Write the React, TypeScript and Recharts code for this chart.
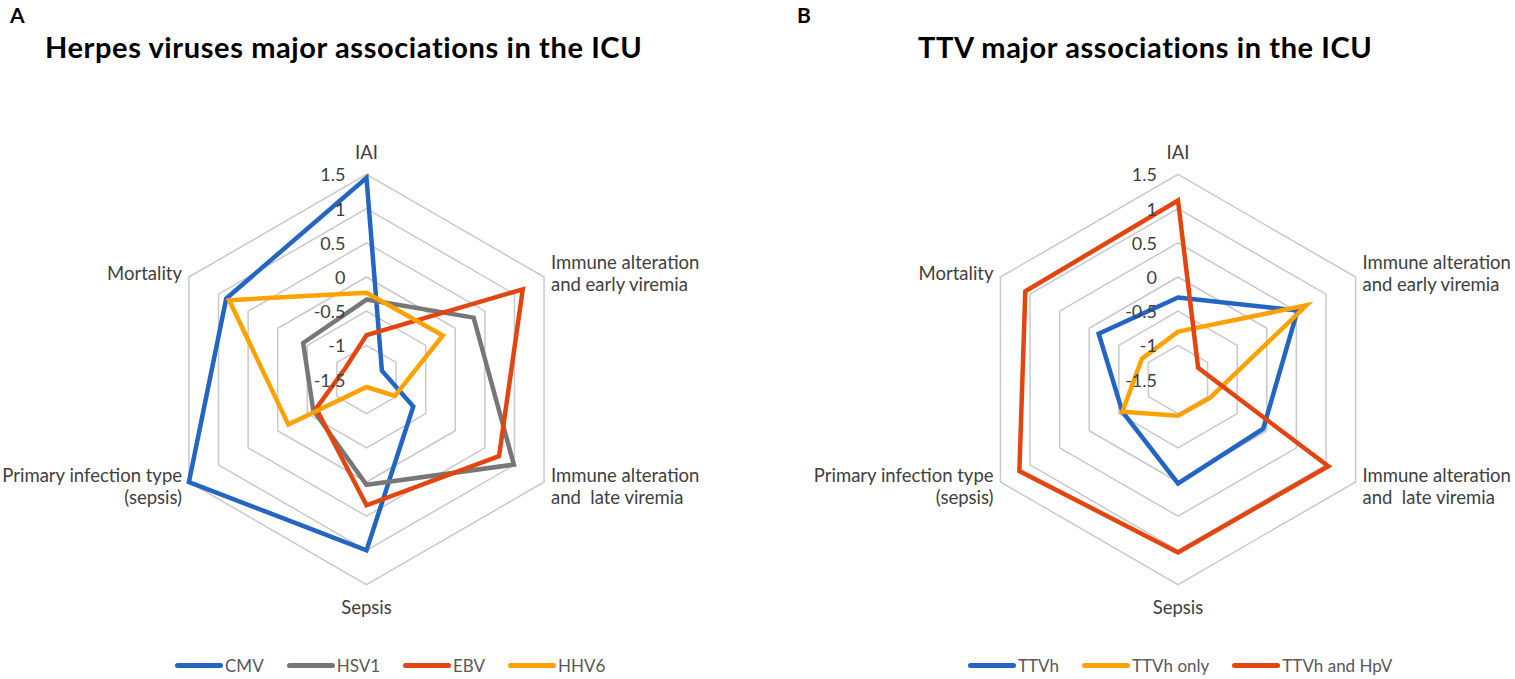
import { RadarChart, Radar, PolarGrid, PolarAngleAxis, PolarRadiusAxis } from "recharts";

// axis order, clockwise from the top
const AXES = [
  "IAI",
  "Immune alteration\nand early viremia",
  "Immune alteration\nand  late viremia",
  "Sepsis",
  "Primary infection type\n(sepsis)",
  "Mortality",
];

const RADIUS_TICKS = [-1.5, -1, -0.5, 0, 0.5, 1, 1.5];

// panel A — herpes viruses
const CMV = [1.45, -1.24, -0.71, 1.0, 1.5, 0.87];
const HSV1 = [-0.33, 0.31, 0.99, 0.04, -0.6, -0.43];
const EBV = [-0.85, 1.14, 0.74, 0.34, -0.65, -1.15];
const HHV6 = [-0.23, -0.21, -1.02, -1.39, -0.18, 0.82];

// panel B — TTV
const TTVH = [-0.3, 0.52, -0.06, 0.02, -0.56, -0.16];
const TTVH_ONLY = [-0.8, 0.67, -0.96, -0.97, -0.56, -0.89];
const TTVH_HPV = [1.12, -1.16, 1.04, 1.03, 1.18, 1.08];

const BLUE = "#2265c3";
const GRAY = "#777777";
const RED = "#e2450f";
const ORANGE = "#ffa200";

const FONT = "Lato, 'Open Sans', sans-serif";
const TEXT = "#404040";

type Series = { key: string; color: string; values: number[] };

const herpesSeries: Series[] = [
  { key: "CMV", color: BLUE, values: CMV },
  { key: "HSV1", color: GRAY, values: HSV1 },
  { key: "EBV", color: RED, values: EBV },
  { key: "HHV6", color: ORANGE, values: HHV6 },
];

const ttvSeries: Series[] = [
  { key: "TTVh", color: BLUE, values: TTVH },
  { key: "TTVh only", color: ORANGE, values: TTVH_ONLY },
  { key: "TTVh and HpV", color: RED, values: TTVH_HPV },
];

const buildRows = (series: Series[]) =>
  AXES.map((axis, i) => {
    const row: Record<string, string | number> = { axis };
    series.forEach((s) => (row[s.key] = s.values[i]));
    return row;
  });

const CY = 379.5;
// recharts pads the radius scale up to 2, so the 1.5 ring lands at 3/3.5 of this (~205px)
const R = 239.2;
const LABEL_R = 213;

// category labels: placed at a fixed distance from the centre along the spoke
const AngleTick = ({ x, y, payload, cx0, cy0 }: any) => {
  const lines = String(payload.value).split("\n");
  const vx = x - cx0;
  const vy = y - cy0;
  const len = Math.hypot(vx, vy) || 1;
  const tx = cx0 + (vx / len) * LABEL_R;
  const ty = cy0 + (vy / len) * LABEL_R;
  const vertical = Math.abs(vx / len) < 0.05;
  const anchor = vertical ? "middle" : vx > 0 ? "start" : "end";
  const shift = vertical ? (vy < 0 ? -15 : 14) : 0;
  const lineH = 22.5;
  const y0 = ty + shift - ((lines.length - 1) * lineH) / 2;
  return (
    <text
      x={tx}
      y={y0}
      textAnchor={anchor}
      fill={TEXT}
      fontSize={18.5}
      fontFamily={FONT}
      style={{ whiteSpace: "pre" }}
    >
      {lines.map((l, i) => (
        <tspan key={i} x={tx} y={y0 + i * lineH} dominantBaseline="central">
          {l}
        </tspan>
      ))}
    </text>
  );
};

const RadiusTick = ({ x, y, payload }: any) => (
  <text
    x={x - 21}
    y={y}
    textAnchor="end"
    dominantBaseline="central"
    fill={TEXT}
    fontSize={18}
    fontFamily={FONT}
  >
    {payload.value}
  </text>
);

function Panel({ series, cx, width }: { series: Series[]; cx: number; width: number }) {
  const rows = buildRows(series);
  return (
    <RadarChart width={width} height={679} data={rows} cx={cx} cy={CY} outerRadius={R}>
      <PolarGrid gridType="polygon" radialLines={false} stroke="#c9c9c9" strokeWidth={1.5} />
      <PolarAngleAxis
        dataKey="axis"
        axisLine={false}
        tickLine={false}
        tick={(p: any) => <AngleTick {...p} cx0={cx} cy0={CY} />}
      />
      <PolarRadiusAxis
        type="number"
        angle={90}
        domain={[-1.5, 1.5]}
        allowDataOverflow
        ticks={RADIUS_TICKS as any}
        axisLine={false}
        tickLine={false}
        tick={(p: any) => <RadiusTick {...p} />}
      />
      {series.map((s) => (
        <Radar
          key={s.key}
          name={s.key}
          dataKey={s.key}
          stroke={s.color}
          strokeWidth={4.5}
          fill="none"
          fillOpacity={0}
          dot={false}
          isAnimationActive={false}
        />
      ))}
    </RadarChart>
  );
}

function LegendRow({ series, left }: { series: Series[]; left: number }) {
  return (
    <div
      style={{
        position: "absolute",
        left,
        top: 655,
        display: "flex",
        alignItems: "center",
        gap: 23,
        fontFamily: FONT,
        fontSize: 17,
        color: "#595959",
        whiteSpace: "nowrap",
      }}
    >
      {series.map((s) => (
        <div key={s.key} style={{ display: "flex", alignItems: "center", gap: 2 }}>
          <div style={{ width: 48, height: 4.5, borderRadius: 3, background: s.color }} />
          <span>{s.key}</span>
        </div>
      ))}
    </div>
  );
}

const titleStyle: React.CSSProperties = {
  position: "absolute",
  fontFamily: FONT,
  fontWeight: 700,
  color: "#000",
  whiteSpace: "nowrap",
};

export default function App() {
  return (
    <div style={{ position: "relative", width: 1515, height: 679, background: "#fff", overflow: "hidden" }}>
      <style>{"body{margin:0}"}</style>
      <div style={{ ...titleStyle, left: 10, top: 2, fontSize: 21 }}>A</div>
      <div style={{ ...titleStyle, left: 45, top: 29, fontSize: 29, letterSpacing: 0.6 }}>
        Herpes viruses major associations in the ICU
      </div>
      <div style={{ ...titleStyle, left: 797, top: 2, fontSize: 21 }}>B</div>
      <div style={{ ...titleStyle, left: 918, top: 29, fontSize: 29, letterSpacing: 0.6 }}>
        TTV major associations in the ICU
      </div>

      <div style={{ position: "absolute", left: 0, top: 0 }}>
        <Panel series={herpesSeries} cx={366.5} width={758} />
      </div>
      <div style={{ position: "absolute", left: 758, top: 0 }}>
        <Panel series={ttvSeries} cx={420} width={757} />
      </div>

      <LegendRow series={herpesSeries} left={175} />
      <LegendRow series={ttvSeries} left={968} />
    </div>
  );
}
